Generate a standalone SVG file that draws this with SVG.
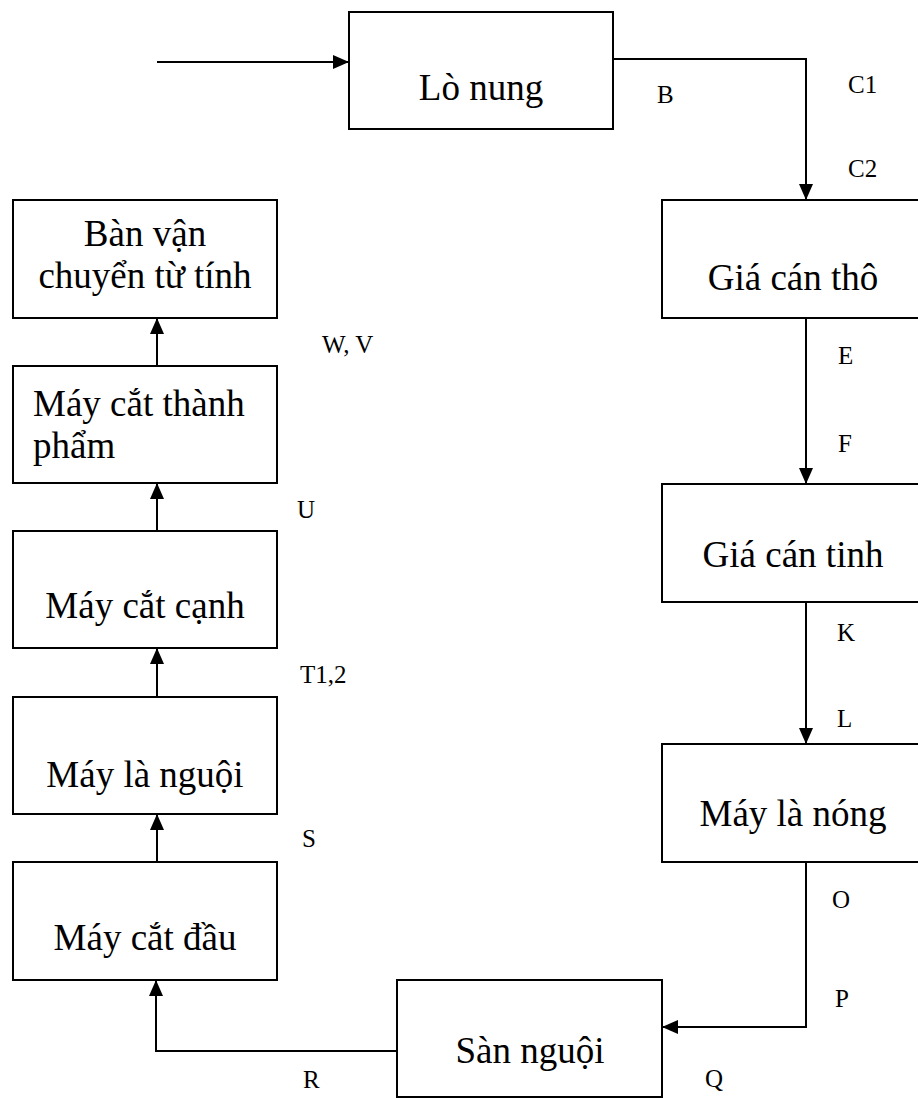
<svg xmlns="http://www.w3.org/2000/svg" width="918" height="1098" viewBox="0 0 918 1098">
<style>
.box{fill:#fff;stroke:#000;stroke-width:2}
.t{font-family:"Liberation Serif","Times New Roman",serif;font-size:37px;fill:#000}
.c{text-anchor:middle}
.lb{font-family:"Liberation Serif","Times New Roman",serif;font-size:25px;fill:#000}
.ln{fill:none;stroke:#000;stroke-width:2}
</style>
<defs>
<marker id="ah" markerUnits="userSpaceOnUse" markerWidth="16" markerHeight="14" refX="16" refY="7" orient="auto">
<path d="M0,0 L16,7 L0,14 z" fill="#000"/>
</marker>
</defs>
<rect width="918" height="1098" fill="#fff"/>
<g id="connectors">
<path class="ln" d="M157,62 H349" marker-end="url(#ah)"/>
<path class="ln" d="M613,59 H806 V200" marker-end="url(#ah)"/>
<path class="ln" d="M806,318 V484" marker-end="url(#ah)"/>
<path class="ln" d="M806,602 V744" marker-end="url(#ah)"/>
<path class="ln" d="M806,862 V1027 H662" marker-end="url(#ah)"/>
<path class="ln" d="M397,1051 H156 V980" marker-end="url(#ah)"/>
<path class="ln" d="M157,862 V814" marker-end="url(#ah)"/>
<path class="ln" d="M157,697 V648" marker-end="url(#ah)"/>
<path class="ln" d="M157,531 V483" marker-end="url(#ah)"/>
<path class="ln" d="M157,366 V318" marker-end="url(#ah)"/>
</g>
<g id="lo-nung"><rect class="box" x="349" y="12" width="264" height="117"/><text class="t c" x="481" y="100">Lò nung</text></g>
<g id="gia-can-tho"><rect class="box" x="662" y="200" width="264" height="118"/><text class="t c" x="793" y="290">Giá cán thô</text></g>
<g id="gia-can-tinh"><rect class="box" x="662" y="484" width="264" height="118"/><text class="t c" x="793" y="567">Giá cán tinh</text></g>
<g id="may-la-nong"><rect class="box" x="662" y="744" width="264" height="118"/><text class="t c" x="793" y="826">Máy là nóng</text></g>
<g id="san-nguoi"><rect class="box" x="397" y="980" width="265" height="117"/><text class="t c" x="530" y="1063">Sàn nguội</text></g>
<g id="may-cat-dau"><rect class="box" x="13" y="862" width="264" height="118"/><text class="t c" x="145" y="950">Máy cắt đầu</text></g>
<g id="may-la-nguoi"><rect class="box" x="13" y="697" width="264" height="117"/><text class="t c" x="145" y="787">Máy là nguội</text></g>
<g id="may-cat-canh"><rect class="box" x="13" y="531" width="264" height="117"/><text class="t c" x="145" y="618">Máy cắt cạnh</text></g>
<g id="may-cat-thanh-pham"><rect class="box" x="13" y="366" width="264" height="117"/><text class="t" x="33" y="416">Máy cắt thành</text><text class="t" x="33" y="458">phẩm</text></g>
<g id="ban-van-chuyen"><rect class="box" x="13" y="200" width="264" height="118"/><text class="t c" x="145" y="246">Bàn vận</text><text class="t c" x="145" y="288">chuyển từ tính</text></g>
<g id="labels">
<text class="lb" x="657" y="103">B</text>
<text class="lb" x="848" y="93">C1</text>
<text class="lb" x="848" y="177">C2</text>
<text class="lb" x="838" y="364">E</text>
<text class="lb" x="838" y="452">F</text>
<text class="lb" x="837" y="641">K</text>
<text class="lb" x="837" y="727">L</text>
<text class="lb" x="832" y="908">O</text>
<text class="lb" x="835" y="1007">P</text>
<text class="lb" x="705" y="1087">Q</text>
<text class="lb" x="303" y="1088">R</text>
<text class="lb" x="302" y="847">S</text>
<text class="lb" x="300" y="683">T1,2</text>
<text class="lb" x="297" y="518">U</text>
<text class="lb" x="322" y="353">W, V</text>
</g>
</svg>
